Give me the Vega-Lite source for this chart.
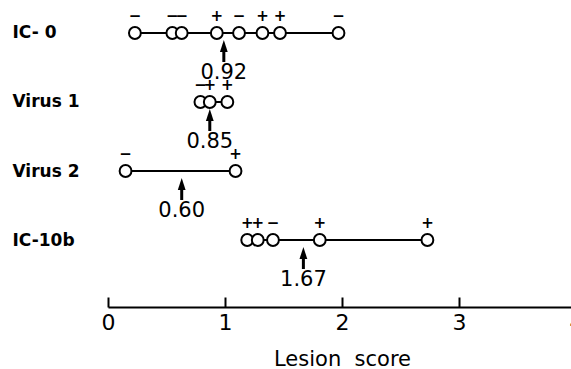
{
  "$schema": "https://vega.github.io/schema/vega-lite/v6.json",
  "autosize": {"type": "none"},
  "width": 468,
  "height": 273,
  "padding": {"left": 108, "top": 0, "right": 0, "bottom": 96},
  "background": "white",
  "config": {
    "view": {"stroke": null},
    "font": "DejaVu Sans"
  },
  "datasets": {
    "points": [
      {"group": "IC- 0", "score": 0.23, "sign": "−"},
      {"group": "IC- 0", "score": 0.55, "sign": "−"},
      {"group": "IC- 0", "score": 0.63, "sign": "−"},
      {"group": "IC- 0", "score": 0.93, "sign": "+"},
      {"group": "IC- 0", "score": 1.12, "sign": "−"},
      {"group": "IC- 0", "score": 1.32, "sign": "+"},
      {"group": "IC- 0", "score": 1.47, "sign": "+"},
      {"group": "IC- 0", "score": 1.97, "sign": "−"},
      {"group": "Virus 1", "score": 0.79, "sign": "−"},
      {"group": "Virus 1", "score": 0.87, "sign": "+"},
      {"group": "Virus 1", "score": 1.02, "sign": "+"},
      {"group": "Virus 2", "score": 0.15, "sign": "−"},
      {"group": "Virus 2", "score": 1.09, "sign": "+"},
      {"group": "IC-10b", "score": 1.19, "sign": "+"},
      {"group": "IC-10b", "score": 1.28, "sign": "+"},
      {"group": "IC-10b", "score": 1.41, "sign": "−"},
      {"group": "IC-10b", "score": 1.81, "sign": "+"},
      {"group": "IC-10b", "score": 2.73, "sign": "+"}
    ],
    "means": [
      {"group": "IC- 0", "pos": 0.99, "label": "0.92"},
      {"group": "Virus 1", "pos": 0.87, "label": "0.85"},
      {"group": "Virus 2", "pos": 0.63, "label": "0.60"},
      {"group": "IC-10b", "pos": 1.67, "label": "1.67"}
    ]
  },
  "encoding": {
    "y": {
      "field": "group",
      "type": "nominal",
      "sort": ["IC- 0", "Virus 1", "Virus 2", "IC-10b"],
      "scale": {"type": "point", "padding": 0.478},
      "axis": {
        "title": null,
        "domain": false,
        "ticks": false,
        "labelAlign": "left",
        "labelPadding": 96,
        "labelFont": "DejaVu Sans",
        "labelFontWeight": "bold",
        "labelFontSize": 17,
        "labelColor": "black"
      }
    }
  },
  "layer": [
    {
      "data": {"name": "points"},
      "mark": {"type": "rule", "color": "black", "strokeWidth": 2},
      "encoding": {
        "x": {
          "aggregate": "min",
          "field": "score",
          "type": "quantitative",
          "scale": {"domain": [0, 4], "nice": false, "zero": false},
          "axis": {
            "values": [0, 1, 2, 3, 4],
            "format": "d",
            "offset": 34,
            "grid": false,
            "domainColor": "black",
            "domainWidth": 2,
            "tickColor": "black",
            "tickWidth": 2,
            "tickSize": -10,
            "labelFlush": false,
            "labelPadding": 15,
            "labelFont": "DejaVu Sans",
            "labelFontSize": 22,
            "labelColor": "black",
            "labelBaseline": "top",
            "title": "Lesion\u00a0\u00a0score",
            "titleFont": "DejaVu Sans",
            "titleFontSize": 21,
            "titleFontWeight": "normal",
            "titleColor": "black",
            "titlePadding": 15
          }
        },
        "x2": {"aggregate": "max", "field": "score"}
      }
    },
    {
      "data": {"name": "points"},
      "mark": {"type": "point", "shape": "circle", "filled": true, "fill": "white", "stroke": "black", "strokeWidth": 2, "size": 140, "opacity": 1},
      "encoding": {
        "x": {"field": "score", "type": "quantitative"}
      }
    },
    {
      "data": {"name": "points"},
      "mark": {"type": "text", "font": "DejaVu Sans", "fontWeight": "bold", "fontSize": 15, "baseline": "middle", "dy": -17, "color": "black"},
      "encoding": {
        "x": {"field": "score", "type": "quantitative"},
        "text": {"field": "sign"}
      }
    },
    {
      "data": {"name": "means"},
      "mark": {"type": "rule", "color": "black", "strokeWidth": 3, "yOffset": 16, "y2Offset": 29},
      "encoding": {
        "x": {"field": "pos", "type": "quantitative"},
        "y2": {"field": "group"}
      }
    },
    {
      "data": {"name": "means"},
      "mark": {"type": "point", "shape": "M0,-1L0.65,1L-0.65,1Z", "filled": true, "color": "black", "opacity": 1, "size": 144, "yOffset": 13},
      "encoding": {
        "x": {"field": "pos", "type": "quantitative"}
      }
    },
    {
      "data": {"name": "means"},
      "mark": {"type": "text", "font": "DejaVu Sans", "fontSize": 21, "baseline": "alphabetic", "dy": 46, "color": "black"},
      "encoding": {
        "x": {"field": "pos", "type": "quantitative"},
        "text": {"field": "label"}
      }
    }
  ]
}
